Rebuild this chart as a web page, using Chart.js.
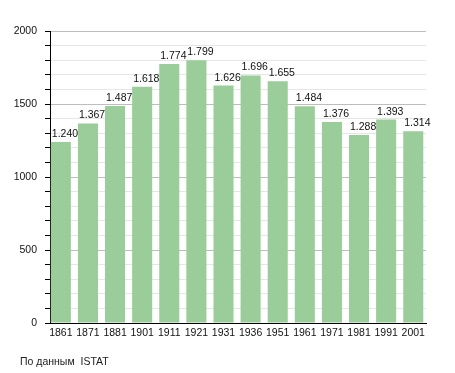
<!DOCTYPE html>
<html><head><meta charset="utf-8">
<script src="https://cdn.jsdelivr.net/npm/chart.js@4/dist/chart.umd.min.js"></script>
<style>
html,body{margin:0;padding:0;background:#fff;}
#wrap{position:relative;width:455px;height:373px;}
#src{position:absolute;left:20px;top:355px;font:10.5px "Liberation Sans",Arial,sans-serif;color:#222;white-space:pre;}
</style></head>
<body><div id="wrap"><canvas id="c" width="455" height="373"></canvas><div id="src">По данным  ISTAT</div></div>
<script>
const years = ["1861","1871","1881","1901","1911","1921","1931","1936","1951","1961","1971","1981","1991","2001"];
const population = [1240,1367,1487,1618,1774,1799,1626,1696,1655,1484,1376,1288,1393,1314];
const yMax = 2000;
const yStep = 100;
const yLabelStep = 500;

function fmt(v){ return String(v).replace(/\B(?=(\d{3})+(?!\d))/g, "."); }

const FONT = '"Liberation Sans", Arial, sans-serif';

const labelPlugin = {
  id: 'vals',
  afterDatasetsDraw(chart){
    const ctx = chart.ctx;
    const meta = chart.getDatasetMeta(0);
    ctx.save();
    ctx.font = '10.5px ' + FONT;
    ctx.fillStyle = '#111';
    ctx.textAlign = 'left';
    ctx.textBaseline = 'alphabetic';
    meta.data.forEach((bar, i) => {
      ctx.fillText(fmt(population[i]), bar.x - bar.width / 2 + 1, bar.y - 5);
    });
    ctx.restore();
  }
};

Chart.defaults.font.family = FONT;
Chart.defaults.font.size = 10.5;
Chart.defaults.color = '#111';

const points = years.map((y, i) => ({ x: i, y: population[i] }));

new Chart(document.getElementById('c'), {
  type: 'bar',
  data: { datasets: [{ data: points, backgroundColor: '#9acd9a', borderWidth: 0, categoryPercentage: 1, barPercentage: 0.74 }] },
  options: {
    responsive: false,
    animation: false,
    layout: { padding: { left: 0, right: 29, top: 31, bottom: 0 } },
    plugins: { legend: { display: false }, tooltip: { enabled: false } },
    scales: {
      x: {
        type: 'linear',
        min: -0.40, max: 13.47,
        offset: false,
        grid: { display: false, drawTicks: false },
        border: { color: '#000', width: 1 },
        ticks: {
          stepSize: 1, includeBounds: false, padding: 4, maxRotation: 0, autoSkip: false, color: '#111',
          callback: v => Number.isInteger(v) ? years[v] : ''
        },
        afterFit(s){ s.height = 50; }
      },
      y: {
        min: 0, max: yMax,
        border: { color: '#000', width: 1 },
        grid: {
          color: c => (c.tick && c.tick.value % yLabelStep === 0) ? '#bdbdbd' : '#e6e6e6',
          tickColor: '#000',
          tickLength: 5,
          drawOnChartArea: true
        },
        ticks: {
          stepSize: yStep,
          autoSkip: false,
          padding: 8,
          color: '#111',
          callback: v => (v % yLabelStep === 0) ? String(v) : ''
        },
        afterFit(s){ s.width = 50; }
      }
    }
  },
  plugins: [labelPlugin]
});
</script>
</body></html>
